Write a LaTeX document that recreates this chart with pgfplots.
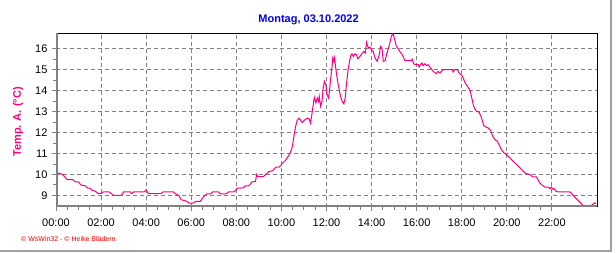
\documentclass[border=0pt]{standalone}
\usepackage{pgfplots}
\pgfplotsset{compat=1.18}
\usepackage{pgfplotstable}
\usepackage{fontspec}
\setmainfont{Liberation Sans}
\definecolor{linec}{RGB}{255,0,128}
\definecolor{gridc}{RGB}{128,128,128}
\definecolor{titc}{RGB}{0,0,240}
\definecolor{bordc}{RGB}{160,160,160}
\pgfplotstableread{
h T
0.00 10.10
0.15 10.05
0.30 10.00
0.45 9.80
0.50 9.75
0.75 9.75
0.85 9.65
1.00 9.65
1.10 9.50
1.30 9.46
1.40 9.35
1.50 9.35
1.60 9.25
1.75 9.20
1.85 9.10
2.00 9.10
2.10 9.17
2.35 9.17
2.45 9.09
2.55 9.00
2.90 9.00
3.00 9.17
3.30 9.17
3.35 9.08
3.45 9.17
3.90 9.17
4.00 9.26
4.10 9.09
4.65 9.09
4.75 9.17
5.20 9.17
5.30 9.08
5.45 9.00
5.55 8.80
5.80 8.72
5.90 8.64
6.10 8.64
6.20 8.72
6.40 8.72
6.55 8.95
6.70 9.08
6.85 9.08
6.95 9.17
7.20 9.17
7.30 9.08
7.55 9.08
7.65 9.17
7.90 9.17
8.05 9.35
8.30 9.36
8.40 9.46
8.55 9.46
8.70 9.65
8.85 9.67
8.90 10.00
8.95 9.90
9.20 9.90
9.30 10.00
9.45 10.15
9.60 10.17
9.75 10.35
9.90 10.35
10.05 10.54
10.20 10.70
10.35 10.95
10.45 11.20
10.50 11.42
10.55 11.80
10.63 12.29
10.70 12.58
10.79 12.69
10.92 12.48
11.04 12.61
11.15 12.69
11.23 12.65
11.29 12.45
11.35 12.85
11.41 13.33
11.46 13.68
11.53 13.41
11.59 13.65
11.65 13.48
11.68 13.72
11.74 13.25
11.80 13.48
11.85 14.12
11.91 14.44
11.97 14.28
12.03 13.80
12.09 13.65
12.12 13.88
12.18 14.52
12.24 15.08
12.28 15.56
12.33 15.40
12.36 15.56
12.40 15.16
12.46 14.68
12.52 14.28
12.58 13.96
12.64 13.65
12.70 13.48
12.77 13.37
12.83 13.65
12.89 14.36
12.95 14.92
13.01 15.32
13.07 15.66
13.13 15.76
13.19 15.63
13.26 15.76
13.33 15.71
13.39 15.52
13.48 15.63
13.58 15.79
13.66 15.87
13.72 15.79
13.78 16.30
13.82 16.14
13.87 16.03
13.92 16.08
14.00 15.95
14.07 15.87
14.15 15.56
14.25 15.40
14.34 15.71
14.40 16.11
14.46 16.03
14.52 15.40
14.60 15.43
14.66 15.71
14.75 16.03
14.81 16.27
14.88 16.60
14.95 16.72
15.03 16.43
15.10 16.11
15.18 15.99
15.25 15.87
15.33 15.76
15.40 15.63
15.47 15.44
15.55 15.43
15.77 15.43
15.80 15.50
15.85 15.32
15.92 15.24
16.07 15.24
16.11 15.13
16.17 15.24
16.23 15.32
16.29 15.19
16.36 15.28
16.44 15.20
16.51 15.24
16.58 15.13
16.66 15.03
16.73 14.92
16.80 14.87
16.88 14.81
16.95 14.92
17.03 14.84
17.10 14.92
17.17 15.00
17.58 15.00
17.62 14.89
17.68 15.00
17.80 15.00
17.84 14.92
17.91 14.81
18.03 14.70
18.14 14.39
18.21 14.28
18.30 14.12
18.36 14.05
18.43 13.73
18.51 13.33
18.58 13.13
18.65 13.02
18.77 12.97
18.85 12.78
18.92 12.54
18.98 12.33
19.07 12.27
19.17 12.22
19.28 12.10
19.36 11.86
19.47 11.67
19.57 11.59
19.64 11.46
19.76 11.19
19.87 11.03
19.98 10.95
20.13 10.79
20.28 10.63
20.43 10.48
20.58 10.32
20.72 10.16
20.84 10.05
21.02 10.00
21.14 9.89
21.31 9.89
21.39 9.73
21.46 9.60
21.58 9.48
21.68 9.40
21.83 9.40
21.91 9.32
21.98 9.40
22.05 9.29
22.10 9.32
22.17 9.21
22.28 9.17
22.79 9.17
22.87 9.10
22.94 9.00
23.09 8.84
23.24 8.68
23.38 8.52
23.46 8.46
23.68 8.46
23.80 8.57
23.90 8.65
23.95 8.60
}\tempdata
\begin{document}
\begin{tikzpicture}[x=1pt,y=1pt]
\useasboundingbox (0,0) rectangle (616,253);
\begin{axis}[
  at={(56pt,46pt)}, anchor=south west,
  scale only axis, width=541pt, height=174pt,
  xmin=0, xmax=24, ymin=8.45, ymax=16.75,
  xtick={0,2,...,22},
  xticklabels={00:00,02:00,04:00,06:00,08:00,10:00,12:00,14:00,16:00,18:00,20:00,22:00},
  minor x tick num=3,
  ytick={9,...,16},
  minor y tick num=1,
  xtick pos=bottom, ytick pos=left,
  tick align=outside,
  major tick length=4pt, minor tick length=3pt,
  every tick/.style={gridc, line width=1pt},
  grid=major,
  major grid style={gridc, dash pattern=on 4pt off 3pt, line width=1pt},
  axis line style={black, line width=1pt},
  /pgf/number format/assume math mode=true,
  tick label style={font=\fontsize{11}{13}\selectfont, black},
  xticklabel style={yshift=-4pt},
  yticklabel style={xshift=-1pt},
  clip=true,
]
\addplot[linec, line width=1pt, mark=none] table[x=h, y=T] {\tempdata};
\draw[gridc, line width=3pt] (rel axis cs:0,1) -- (rel axis cs:0,0) -- (rel axis cs:1,0);
\end{axis}
\node[font=\bfseries\fontsize{11}{13}\selectfont, text=titc, anchor=base] at (308.6,230.5) {Montag, 03.10.2022};
\node[font=\bfseries\fontsize{11}{13}\selectfont, text=linec, rotate=90] at (18,131) {Temp. A. (°C)};
\node[font=\fontsize{7}{8}\selectfont, text=red, anchor=west, inner sep=0pt] at (21,14.3) {© WsWin32 - © Heike Blädern};
\draw[bordc, line width=2pt] (611,253) -- (611,2) -- (0,2);
\end{tikzpicture}
\end{document}
